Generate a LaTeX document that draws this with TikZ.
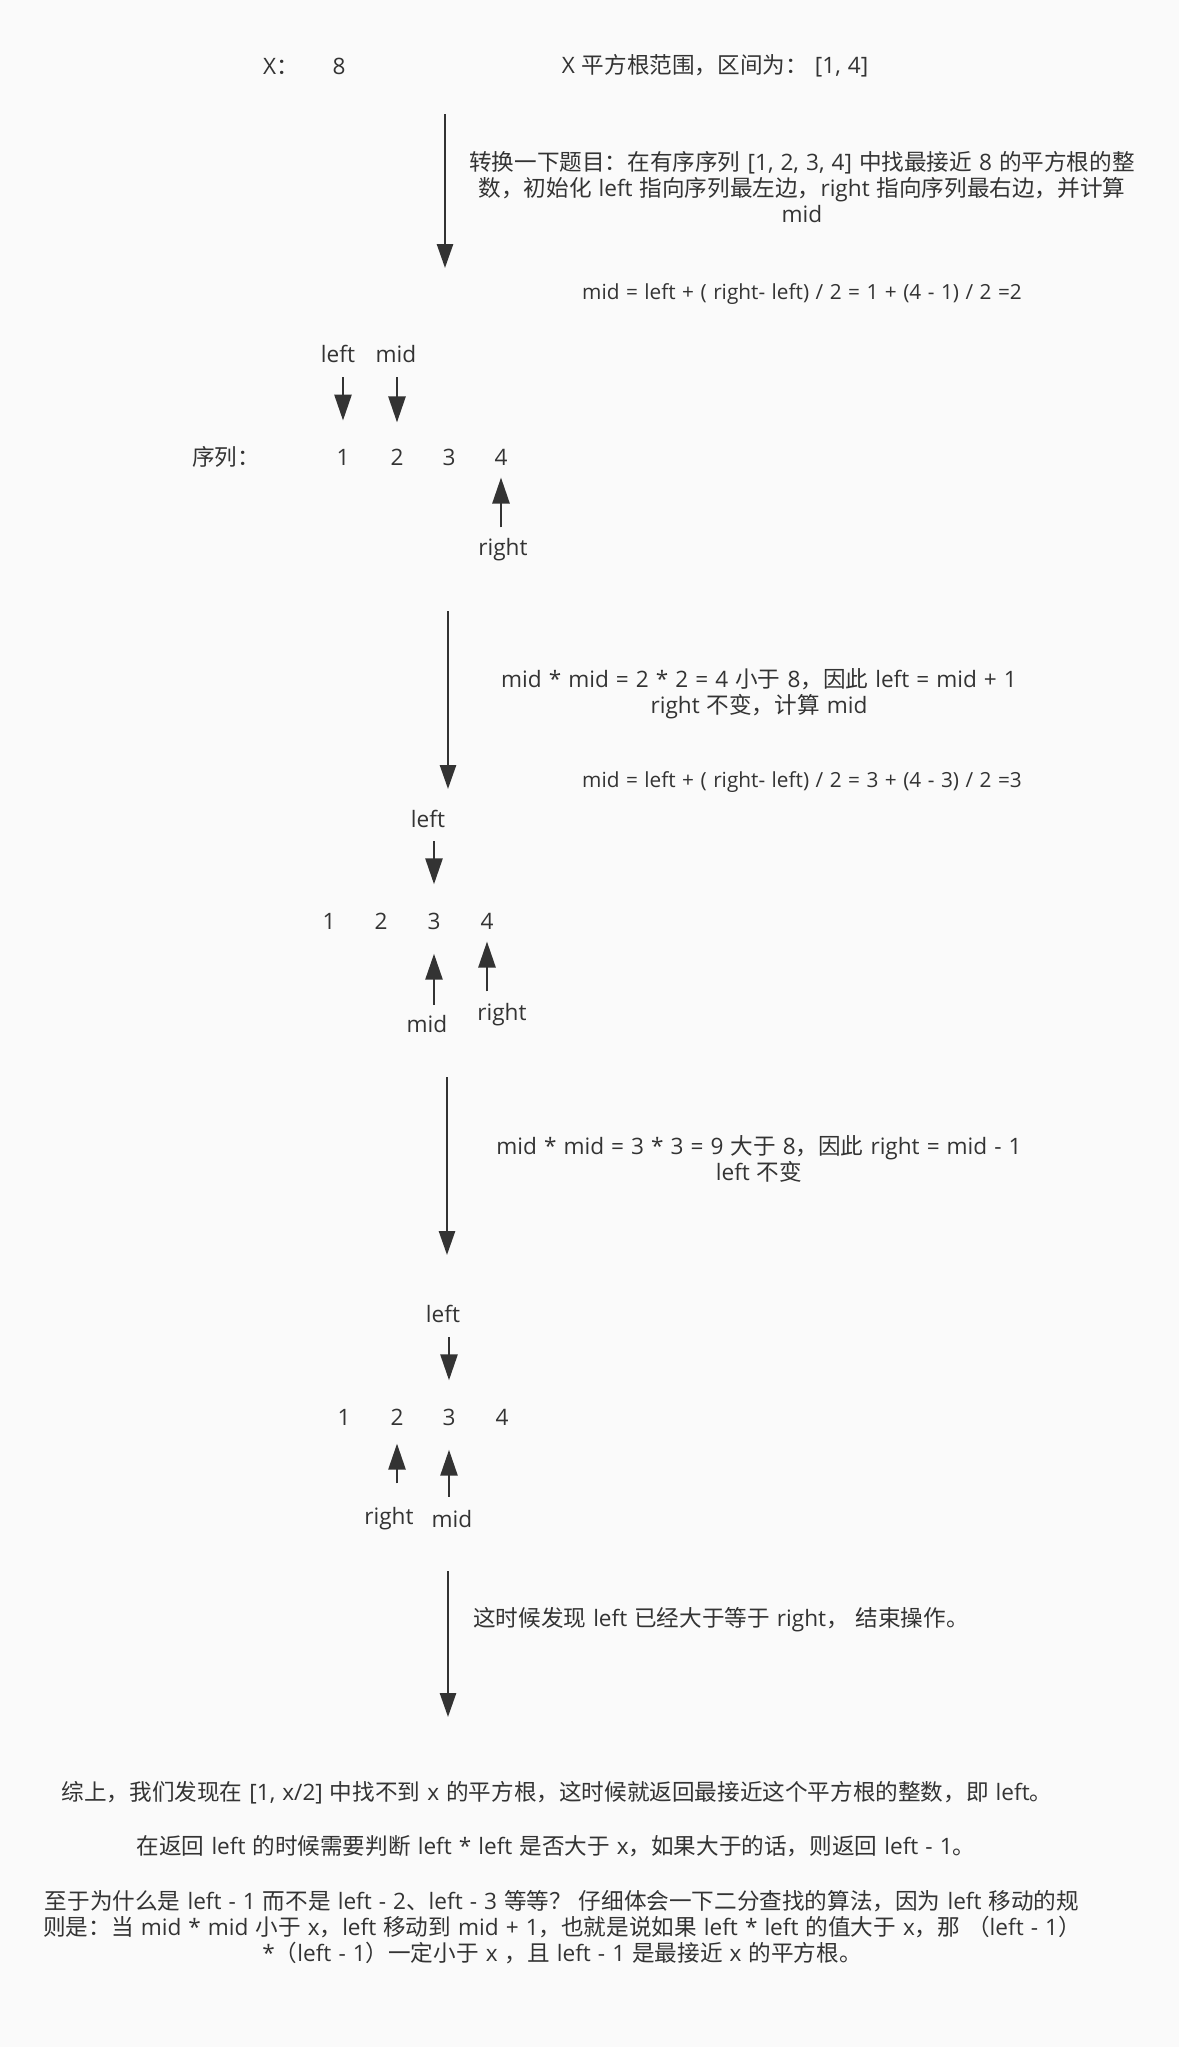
\documentclass[tikz,border=0pt]{standalone}
\usepackage{fontspec}
\setmainfont{Open Sans}[WordSpace=1.2]
\newfontfamily\cjkfont{Noto Sans CJK SC}
\usetikzlibrary{arrows.meta}
\definecolor{ink}{HTML}{333333}
\definecolor{paper}{HTML}{FAFAFA}

% CJK characters switch to the CJK face, everything else stays in the main face
\newXeTeXintercharclass\cjkclass
\newcount\cjkcode
\def\cjkrange#1#2{%
  \cjkcode=#1
  \loop
    \XeTeXcharclass\cjkcode=\cjkclass
  \ifnum\cjkcode<#2 \advance\cjkcode by 1 \repeat}
\cjkrange{"3000}{"303F}
\cjkrange{"4E00}{"9FFF}
\cjkrange{"FF00}{"FFEF}
\XeTeXinterchartoks 0 \cjkclass = {\cjkfont}
\XeTeXinterchartoks 4095 \cjkclass = {\cjkfont}
\XeTeXinterchartoks \cjkclass 0 = {\rmfamily}
\XeTeXinterchartoks \cjkclass 4095 = {\rmfamily}
\XeTeXinterchartokenstate=1

\begin{document}
\begin{tikzpicture}[x=0.5pt, y=-0.5pt, ink,
    every node/.style={inner sep=0pt, text=ink, font=\fontsize{11.3}{13}\selectfont},
    note/.style={align=center},
    small/.style={font=\fontsize{10.4}{12}\selectfont},
    flow/.style={line width=1.3pt, -{Triangle[length=12pt,width=8pt]}},
    ptr/.style={line width=1.3pt, -{Triangle[length=13pt,width=8.5pt]}}]
  \fill[paper] (0,0) rectangle (1179,2047);
  \useasboundingbox (0,0) rectangle (1179,2047);

  \node (xname) at (281,66) {X：};
  \node (xval) at (339,66) {8};
  \node (range) at (715,66) {X 平方根范围，区间为： [1, 4]};

  \foreach \i/\x/\ya/\yb in {1/445/114/268, 2/448/611/789, 3/447/1077/1255, 4/448/1571/1717} {
    \coordinate (top\i) at (\x,\ya);
    \coordinate (end\i) at (\x,\yb);
    \draw[flow] (top\i) -- (end\i);
  }

  \node[note] (step1) at (802,187) {转换一下题目：在有序序列 [1, 2, 3, 4] 中找最接近 8 的平方根的整\\数，初始化 left 指向序列最左边，right 指向序列最右边，并计算\\mid};
  \node[small] (calc1) at (802,294) {mid = left + ( right- left) / 2 = 1 + (4 - 1) / 2 =2};

  \node (seq) at (226,457) {序列：};
  \foreach \v/\x in {1/343,2/397,3/449,4/501}
    \node (a\v) at (\x,457) {\v};
  \node (la) at (338,354) {left};
  \node (ma) at (396,354) {mid};
  \node (ra) at (503,550) {right};
  \draw[ptr, shorten <=7pt, shorten >=14pt] (a1 |- la.south) -- (a1.north);
  \draw[ptr, shorten <=7pt, shorten >=13pt] (a2 |- ma.south) -- (a2.north);
  \draw[ptr, shorten <=5.5pt, shorten >=6pt] (a4 |- ra.north) -- (a4.south);

  \node[note] (step2) at (759,694) {mid * mid = 2 * 2 = 4 小于 8，因此 left = mid + 1\\right 不变，计算 mid};
  \node[small] (calc2) at (802,782) {mid = left + ( right- left) / 2 = 3 + (4 - 3) / 2 =3};

  \foreach \v/\x in {1/329,2/381,3/434,4/487}
    \node (b\v) at (\x,921) {\v};
  \node (lb) at (428,819) {left};
  \node (mb) at (427,1024) {mid};
  \node (rb) at (502,1015) {right};
  \draw[ptr, shorten <=6.5pt, shorten >=14pt] (b3 |- lb.south) -- (b3.north);
  \draw[ptr, shorten <=5pt, shorten >=12pt] (b3 |- mb.north) -- (b3.south);
  \draw[ptr, shorten <=6pt, shorten >=6pt] (b4 |- rb.north) -- (b4.south);

  \node[note] (step3) at (759,1159) {mid * mid = 3 * 3 = 9 大于 8，因此 right = mid - 1\\left 不变};

  \foreach \v/\x in {1/344,2/397,3/449,4/502}
    \node (c\v) at (\x,1417) {\v};
  \node (lc) at (443,1314) {left};
  \node (rc) at (389,1519) {right};
  \node (mc) at (452,1519) {mid};
  \draw[ptr, shorten <=7pt, shorten >=14pt] (c3 |- lc.south) -- (c3.north);
  \draw[ptr, shorten <=12pt, shorten >=9pt] (c2 |- rc.north) -- (c2.south);
  \draw[ptr, shorten <=6.5pt, shorten >=12pt] (c3 |- mc.north) -- (c3.south);

  \node (step4) at (721,1620) {这时候发现 left 已经大于等于 right， 结束操作。};

  \node (sum1) at (557,1793) {综上，我们发现在 [1, x/2] 中找不到 x 的平方根，这时候就返回最接近这个平方根的整数，即 left。};
  \node (sum2) at (556,1846) {在返回 left 的时候需要判断 left * left 是否大于 x，如果大于的话，则返回 left - 1。};
  \node[note] (sum3) at (562,1927) {至于为什么是 left - 1 而不是 left - 2、left - 3 等等？ 仔细体会一下二分查找的算法，因为 left 移动的规\\则是：当 mid * mid 小于 x，left 移动到 mid + 1，也就是说如果 left * left 的值大于 x，那 （left - 1）\\{}*（left - 1）一定小于 x ，且 left - 1 是最接近 x 的平方根。};
\end{tikzpicture}
\end{document}
